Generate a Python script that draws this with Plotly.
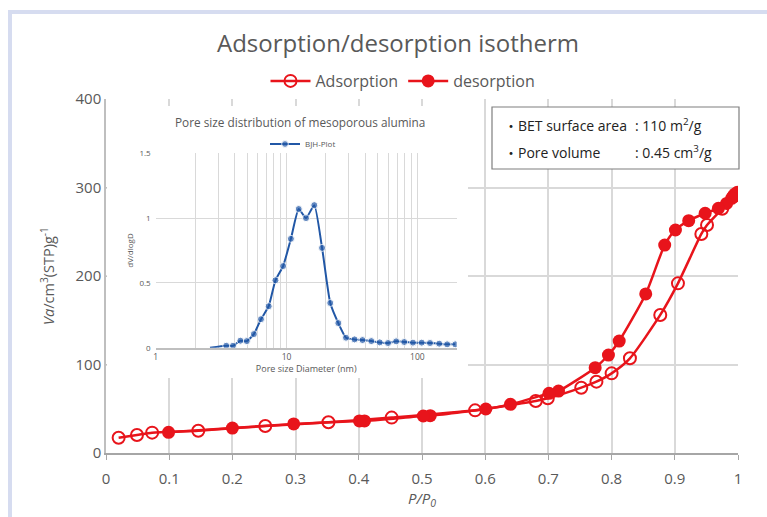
import plotly.graph_objects as go
import math

# ---------------- data ----------------
ads_p = [0.02, 0.049, 0.073, 0.146, 0.252, 0.352, 0.452, 0.584, 0.68, 0.699,
         0.752, 0.776, 0.80, 0.829, 0.877, 0.905, 0.942, 0.951, 0.975, 0.993]
ads_v = [17.3, 20.3, 23.0, 25.2, 30.5, 34.7, 40.0, 48.2, 58.8, 61.8,
         73.8, 80.6, 90.0, 107.0, 156.0, 191.7, 247.5, 257.6, 276.0, 290.0]

des_p = [0.999, 0.995, 0.99, 0.982, 0.969, 0.948, 0.922, 0.901, 0.884, 0.854,
         0.812, 0.795, 0.774, 0.716, 0.701, 0.64, 0.601, 0.513, 0.502, 0.409,
         0.401, 0.297, 0.2, 0.099]
des_v = [294.5, 292.6, 287.8, 282.0, 276.5, 270.9, 262.5, 252.0, 235.0, 179.7,
         126.5, 110.7, 96.4, 70.0, 67.4, 55.0, 49.7, 42.2, 41.8, 36.2,
         36.2, 32.8, 28.2, 23.4]

bjh_d = [2.6, 3.46, 3.9, 4.44, 4.97, 5.63, 6.38, 7.31, 8.23, 9.42, 10.8, 12.4,
         14.1, 16.3, 18.7, 21.6, 24.9, 28.5, 33.1, 38.1, 44.5, 51.6, 59.7,
         68.9, 79.4, 92.6, 108, 125, 147, 169, 195]
bjh_v = [0.0, 0.015, 0.015, 0.054, 0.051, 0.105, 0.22, 0.32, 0.52, 0.63, 0.84,
         1.07, 1.0, 1.10, 0.77, 0.345, 0.19, 0.077, 0.064, 0.059, 0.051, 0.041,
         0.036, 0.049, 0.044, 0.039, 0.039, 0.036, 0.031, 0.026, 0.026]

x_ticks = [0, 0.1, 0.2, 0.3, 0.4, 0.5, 0.6, 0.7, 0.8, 0.9, 1]
x_ticktext = ["0", "0.1", "0.2", "0.3", "0.4", "0.5", "0.6", "0.7", "0.8", "0.9", "1"]
y_ticks = [0, 100, 200, 300, 400]
inset_x_ticks = [1, 10, 100]
inset_x_text = ["1", "10", "100"]
inset_x_minor = [2, 3, 4, 5, 6, 7, 8, 9, 20, 30, 40, 50, 60, 70, 80, 90, 200]
inset_y_ticks = [0, 0.5, 1, 1.5]
inset_y_text = ["0", "0.5", "1", "1.5"]

# ---------------- layout helpers ----------------
W, H = 767, 517
L, R, T, B = 106, 738, 99, 453   # main plot area in px


def px(xp):
    return (xp - L) / (R - L)


def py(yp):
    return (B - yp) / (B - T)


RED = "#e8141b"
BLUE = "#2157a6"
GRAY = "#595959"
GRID = "#d9d9d9"
FONT = "Open Sans, Noto Sans CJK JP, sans-serif"

fig = go.Figure()

fig.add_trace(go.Scatter(
    x=ads_p, y=ads_v, name="Adsorption", mode="lines+markers",
    line=dict(color=RED, width=2.5, shape="spline", smoothing=0.6),
    marker=dict(symbol="circle-open", size=12, color=RED, line=dict(width=2, color=RED)),
    xaxis="x", yaxis="y", legend="legend"))
fig.add_trace(go.Scatter(
    x=des_p, y=des_v, name="desorption", mode="lines+markers",
    line=dict(color=RED, width=2.5, shape="spline", smoothing=0.6),
    marker=dict(symbol="circle", size=13, color=RED),
    xaxis="x", yaxis="y", legend="legend"))

# dummy subplot used to hold the white backdrop of the inset
fig.add_trace(go.Scatter(x=[None], y=[None], xaxis="x2", yaxis="y2",
                         showlegend=False, hoverinfo="skip"))

sizes = [0] + [7] * (len(bjh_d) - 1)
fig.add_trace(go.Scatter(
    x=bjh_d, y=bjh_v, name="BJH-Plot", mode="lines+markers",
    line=dict(color=BLUE, width=2, shape="spline", smoothing=0.5),
    marker=dict(symbol="circle", size=sizes, color=BLUE),
    xaxis="x3", yaxis="y3", legend="legend2"))

ix0, ix1 = px(155.7), px(456.7)
iy0, iy1 = py(347.7), py(153.3)

fig.update_layout(
    width=W, height=H,
    margin=dict(l=L, r=W - R, t=T, b=H - B),
    paper_bgcolor="white", plot_bgcolor="white",
    font=dict(family=FONT, color=GRAY, size=15),
    title=dict(text="Adsorption/desorption isotherm", x=398 / W, xref="container",
               y=1 - 44 / H, yref="container", xanchor="center", yanchor="middle",
               font=dict(size=24, color=GRAY, family=FONT)),
    xaxis=dict(range=[0, 1], tickvals=x_ticks, ticktext=x_ticktext,
               showgrid=True, gridcolor=GRID, gridwidth=1.5,
               showline=True, linecolor="#a6a6a6", linewidth=2,
               ticks="outside", ticklen=5, tickcolor="#a6a6a6",
               ticklabelstandoff=6,
               zeroline=False, tickfont=dict(size=15, color=GRAY),
               title=dict(text="<i>P/P<sub>0</sub></i>", standoff=0,
                          font=dict(size=15, color=GRAY))),
    yaxis=dict(range=[0, 400], tickvals=y_ticks,
               showgrid=True, gridcolor=GRID, gridwidth=1.5,
               showline=True, linecolor="#bfbfbf", linewidth=1.5,
               ticks="inside", ticklen=4, tickcolor="#bfbfbf",
               zeroline=False, tickfont=dict(size=15, color=GRAY),
               title=dict(text="<i>Va</i>/cm<sup>3</sup>(STP)g<sup>-1</sup>", standoff=17,
                          font=dict(size=14.5, color=GRAY))),
    xaxis2=dict(domain=[px(107), px(468)], range=[0, 1], visible=False, anchor="y2"),
    yaxis2=dict(domain=[py(378), py(106)], range=[0, 1], visible=False, anchor="x2"),
    xaxis3=dict(domain=[ix0, ix1], type="log", range=[0, math.log10(200)], anchor="y3",
                tickmode="array", tickvals=inset_x_ticks, ticktext=inset_x_text,
                showgrid=True, gridcolor=GRID, gridwidth=1,
                minor=dict(tickmode="array", tickvals=inset_x_minor, showgrid=True,
                           gridcolor=GRID, gridwidth=1, ticks=""),
                showline=True, linecolor="#bfbfbf", linewidth=1.5,
                ticks="", zeroline=False, tickfont=dict(size=8.5, color=GRAY),
                title=dict(text="Pore size Diameter (nm)", standoff=2,
                           font=dict(size=9, color=GRAY))),
    yaxis3=dict(domain=[iy0, iy1], range=[0, 1.5], anchor="x3",
                tickvals=inset_y_ticks, ticktext=inset_y_text,
                showgrid=True, gridcolor=GRID, gridwidth=1,
                showline=False, ticks="", zeroline=False,
                ticklabelstandoff=4,
                tickfont=dict(size=8, color=GRAY),
                title=dict(text="dV/dlogD", standoff=4, font=dict(size=8, color=GRAY))),
    legend=dict(orientation="h", x=px(403), y=py(81), xanchor="center", yanchor="middle",
                font=dict(size=16, color=GRAY), bgcolor="rgba(0,0,0,0)",
                itemwidth=40, tracegroupgap=0),
    legend2=dict(orientation="h", x=px(303), y=py(144), xanchor="center", yanchor="middle",
                 font=dict(size=8, color=GRAY), bgcolor="rgba(0,0,0,0)", itemwidth=30),
    showlegend=True,
)

shapes = [
    # inset white backdrop (in the dummy subplot, above main gridlines)
    dict(type="rect", xref="x2", yref="y2", x0=0, x1=1, y0=0, y1=1,
         fillcolor="white", line=dict(width=0), layer="between"),
    # info box
    dict(type="rect", xref="paper", yref="paper", x0=px(492), x1=px(739),
         y0=py(169), y1=py(107), fillcolor="white",
         line=dict(color="#7f7f7f", width=1.2), layer="above"),
    # page border (light blue)
    dict(type="rect", xref="paper", yref="paper", x0=px(8), x1=px(12),
         y0=py(H + 5), y1=py(10), fillcolor="#d6dcf0", line=dict(width=0), layer="above"),
    dict(type="rect", xref="paper", yref="paper", x0=px(8), x1=px(W + 5),
         y0=py(14), y1=py(10), fillcolor="#d6dcf0", line=dict(width=0), layer="above"),
]
fig.update_layout(shapes=shapes)

BOXFONT = dict(size=14, color="#222222", family="Open Sans, Noto Sans CJK JP, sans-serif")
annotations = [
    dict(text="Pore size distribution of mesoporous alumina", xref="paper", yref="paper",
         x=px(300), y=py(122), showarrow=False, xanchor="center", yanchor="middle",
         font=dict(size=11.8, color=GRAY, family=FONT)),
    dict(text="・BET surface area", xref="paper", yref="paper", x=px(502), y=py(125),
         showarrow=False, xanchor="left", yanchor="middle", font=BOXFONT),
    dict(text=": 110 m<sup>2</sup>/g", xref="paper", yref="paper", x=px(633), y=py(125),
         showarrow=False, xanchor="left", yanchor="middle", font=BOXFONT),
    dict(text="・Pore volume", xref="paper", yref="paper", x=px(502), y=py(152),
         showarrow=False, xanchor="left", yanchor="middle", font=BOXFONT),
    dict(text=": 0.45 cm<sup>3</sup>/g", xref="paper", yref="paper", x=px(633), y=py(152),
         showarrow=False, xanchor="left", yanchor="middle", font=BOXFONT),
]
fig.update_layout(annotations=annotations)

fig.write_html("out.html", config={"displayModeBar": False},
               post_script="document.body.style.margin='0px';")
